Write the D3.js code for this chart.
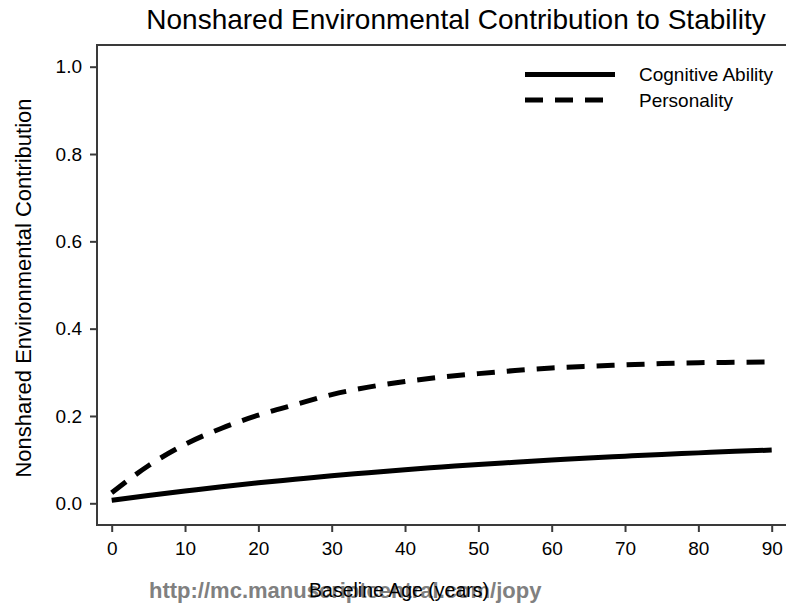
<!DOCTYPE html>
<html>
<head>
<meta charset="utf-8">
<script src="https://cdn.jsdelivr.net/npm/d3@7"></script>
<style>
  html, body { margin: 0; padding: 0; background: #fff; }
  svg { display: block; font-family: "Liberation Sans", Arial, Helvetica, sans-serif; }
</style>
</head>
<body>
<svg id="chart" width="786" height="609"></svg>
<script>
// ---- data ----
const ages = [0, 5, 10, 15, 20, 25, 30, 35, 40, 45, 50, 55, 60, 65, 70, 75, 80, 85, 90];
const cognitiveAbility = [0.007, 0.018, 0.028, 0.038, 0.047, 0.055, 0.063, 0.070, 0.077, 0.083, 0.089, 0.094, 0.099, 0.104, 0.108, 0.112, 0.1155, 0.119, 0.122];
const personality = [0.024, 0.086, 0.135, 0.172, 0.202, 0.226, 0.249, 0.266, 0.279, 0.289, 0.297, 0.304, 0.310, 0.314, 0.317, 0.320, 0.322, 0.323, 0.324];
const seriesNames = ["Cognitive Ability", "Personality"];
const xTicks = [0, 10, 20, 30, 40, 50, 60, 70, 80, 90];
const yTicks = [0.0, 0.2, 0.4, 0.6, 0.8, 1.0];
const titleText = "Nonshared Environmental Contribution to Stability";
const xLabel = "Baseline Age (years)";
const yLabel = "Nonshared Environmental Contribution";
const watermark = "http://mc.manuscriptcentral.com/jopy";

// ---- layout ----
const svg = d3.select("#chart");
const box = { left: 97, top: 45, right: 786, bottom: 525 };
const x = d3.scaleLinear().domain([0, 90]).range([111.7, 771.7]);
const y = d3.scaleLinear().domain([0, 1]).range([503.3, 66.7]);
const axisColor = "#3a3a3a";

// frame (top, left, bottom; right edge falls off the canvas)
svg.append("path")
  .attr("d", `M${box.right},${box.top}H${box.left}V${box.bottom}H${box.right}`)
  .attr("fill", "none").attr("stroke", axisColor).attr("stroke-width", 2);

// y axis
const yAxis = svg.append("g").attr("transform", `translate(${box.left},0)`)
  .call(d3.axisLeft(y).tickValues(yTicks).tickSize(7).tickPadding(8).tickFormat(d3.format(".1f")));
yAxis.select(".domain").remove();
yAxis.selectAll("line").attr("stroke", axisColor).attr("stroke-width", 2);
yAxis.selectAll("text").attr("font-size", 19).attr("fill", "#000")
  .attr("font-family", "Liberation Sans, Arial, sans-serif");

// x axis
const xAxis = svg.append("g").attr("transform", `translate(0,${box.bottom})`)
  .call(d3.axisBottom(x).tickValues(xTicks).tickSize(7).tickPadding(10));
xAxis.select(".domain").remove();
xAxis.selectAll("line").attr("stroke", axisColor).attr("stroke-width", 2);
xAxis.selectAll("text").attr("font-size", 19).attr("fill", "#000")
  .attr("font-family", "Liberation Sans, Arial, sans-serif");

// lines
const line = d3.line().x((d, i) => x(ages[i])).y(d => y(d)).curve(d3.curveMonotoneX);
svg.append("path").datum(cognitiveAbility)
  .attr("d", line).attr("fill", "none").attr("stroke", "#000").attr("stroke-width", 5);
svg.append("path").datum(personality)
  .attr("d", line).attr("fill", "none").attr("stroke", "#000").attr("stroke-width", 5)
  .attr("stroke-dasharray", "18,12");

// legend
const legend = svg.append("g");
const legendRows = [
  { name: seriesNames[0], dash: null, y: 74.5 },
  { name: seriesNames[1], dash: "18,12", y: 100 }
];
legendRows.forEach(r => {
  legend.append("line").attr("x1", 525).attr("x2", 615).attr("y1", r.y).attr("y2", r.y)
    .attr("stroke", "#000").attr("stroke-width", 5)
    .attr("stroke-dasharray", r.dash);
  legend.append("text").attr("x", 639).attr("y", r.y).attr("dy", "0.35em")
    .attr("font-size", 19).text(r.name);
});

// title
svg.append("text").attr("x", 456).attr("y", 29).attr("text-anchor", "middle")
  .attr("font-size", 28).text(titleText);

// y label
svg.append("text")
  .attr("transform", `translate(31,288) rotate(-90)`)
  .attr("text-anchor", "middle").attr("font-size", 22).text(yLabel);

// watermark (behind x label)
svg.append("text").attr("x", 149).attr("y", 598)
  .attr("font-size", 22).attr("font-weight", "bold").attr("fill", "#808080")
  .text(watermark);

// x label
svg.append("text").attr("x", 399).attr("y", 597).attr("text-anchor", "middle")
  .attr("font-size", 19.5).attr("fill", "#000").text(xLabel);
</script>
</body>
</html>
